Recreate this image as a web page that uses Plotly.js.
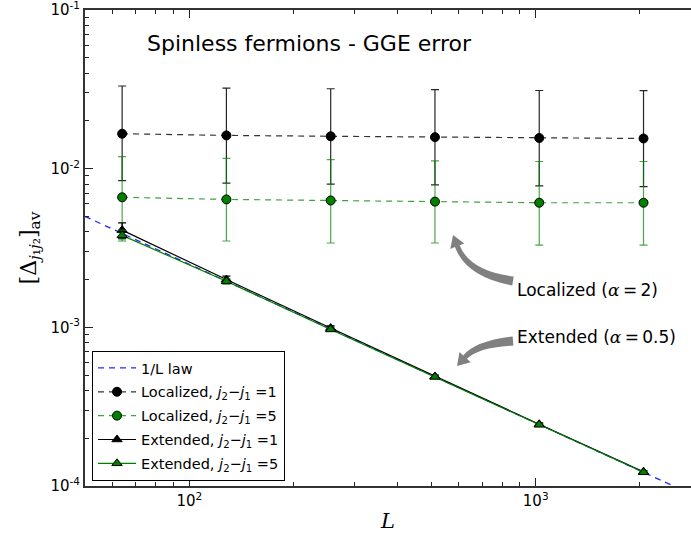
<!DOCTYPE html>
<html><head><meta charset="utf-8">
<script src="https://cdn.plot.ly/plotly-3.0.1.min.js"></script>
<style>html,body{margin:0;padding:0;background:#fff}#chart{width:691px;height:534px}</style>
</head><body><div id="chart"></div>
<script>
// ---- data ----
const sizes = [64, 128, 256, 512, 1024, 2048];

const lawL = [50, 3000];
const lawVal = [0.0050, 0.0000833];

const locJ1 = [0.0166, 0.0162, 0.0160, 0.0158, 0.0156, 0.0155];
const locJ1Plus = [0.0166, 0.0160, 0.0159, 0.0157, 0.0155, 0.0155];
const locJ1Minus = [0.0082, 0.0081, 0.0080, 0.0079, 0.0078, 0.0078];

const locJ5 = [0.0066, 0.0064, 0.0063, 0.0062, 0.0061, 0.0061];
const locJ5Plus = [0.0053, 0.0052, 0.0051, 0.0050, 0.0050, 0.0050];
const locJ5Minus = [0.0030, 0.0029, 0.0029, 0.0028, 0.0028, 0.0028];

const extJ1 = [0.0041, 0.00200, 0.00099, 0.000490, 0.000245, 0.000123];
const extJ1Err = [0.00045, 0.00010, 0.00003, 0.00001, 0.000005, 0.000002];

const extJ5 = [0.0038, 0.00195, 0.00097, 0.000487, 0.000243, 0.000122];
const extJ5Err = [0.00030, 0.00008, 0.00002, 0.00001, 0.000004, 0.000002];

const legendNames = [
  '1/L law',
  'Localized, <i>j</i><sub>2</sub>−<i>j</i><sub>1</sub> =1',
  'Localized, <i>j</i><sub>2</sub>−<i>j</i><sub>1</sub> =5',
  'Extended, <i>j</i><sub>2</sub>−<i>j</i><sub>1</sub> =1',
  'Extended, <i>j</i><sub>2</sub>−<i>j</i><sub>1</sub> =5'
];

const xTickVals = [100, 1000];
const xTickText = ['10<sup>2</sup>', '10<sup>3</sup>'];
const yTickVals = [1e-4, 1e-3, 1e-2, 1e-1];
const yTickText = ['10<sup>-4</sup>', '10<sup>-3</sup>', '10<sup>-2</sup>', '10<sup>-1</sup>'];

const xMinorTicks = [60, 70, 80, 90, 200, 300, 400, 500, 600, 700, 800, 900, 2000];
const yMinorTicks = [2e-4, 3e-4, 4e-4, 5e-4, 6e-4, 7e-4, 8e-4, 9e-4,
                     2e-3, 3e-3, 4e-3, 5e-3, 6e-3, 7e-3, 8e-3, 9e-3,
                     2e-2, 3e-2, 4e-2, 5e-2, 6e-2, 7e-2, 8e-2, 9e-2];

// ---- layout geometry ----
const W = 691, H = 534;
const M = {l: 85, r: 0, t: 10, b: 48};
const PW = W - M.l - M.r, PH = H - M.t - M.b;
const px = x => (x - M.l) / PW;
const py = y => 1 - (y - M.t) / PH;
const xRange = [Math.log10(50), Math.log10(50) + PW / 346.4];
const yRange = [-4, -1];

const BLACK = '#000000', GREEN = '#008000';

const traces = [
  {x: lawL, y: lawVal, mode: 'lines', name: legendNames[0], legendgroup: 'a',
   line: {color: 'rgba(0,0,255,0.85)', width: 1.3, dash: '6px,5px'}},
  {x: sizes, y: locJ1, mode: 'lines+markers', name: legendNames[1], legendgroup: 'b',
   line: {color: 'rgba(0,0,0,0.8)', width: 1.2, dash: '6px,5px'},
   marker: {symbol: 'circle', size: 9, color: BLACK, line: {color: BLACK, width: 1}},
   error_y: {type: 'data', symmetric: false, array: locJ1Plus, arrayminus: locJ1Minus,
             color: 'rgba(0,0,0,0.85)', thickness: 1.2, width: 4}},
  {x: sizes, y: locJ5, mode: 'lines+markers', name: legendNames[2], legendgroup: 'c',
   line: {color: 'rgba(0,128,0,0.75)', width: 1.2, dash: '6px,5px'},
   marker: {symbol: 'circle', size: 9, color: GREEN, line: {color: BLACK, width: 1}},
   error_y: {type: 'data', symmetric: false, array: locJ5Plus, arrayminus: locJ5Minus,
             color: 'rgba(0,128,0,0.7)', thickness: 1.2, width: 4}},
  {x: sizes, y: extJ1, mode: 'lines+markers', name: legendNames[3], legendgroup: 'd',
   line: {color: BLACK, width: 1.2},
   marker: {symbol: 'triangle-up', size: 9, color: BLACK, line: {color: BLACK, width: 1}},
   error_y: {type: 'data', array: extJ1Err, color: BLACK, thickness: 1.2, width: 4}},
  {x: sizes, y: extJ5, mode: 'lines+markers', name: legendNames[4], legendgroup: 'e',
   line: {color: GREEN, width: 1.2},
   marker: {symbol: 'triangle-up', size: 9, color: GREEN, line: {color: BLACK, width: 1}},
   error_y: {type: 'data', array: extJ5Err, color: 'rgba(0,128,0,0.8)', thickness: 1.2, width: 4}},
  // empty trace that carries the overlay axes used for the minor ticks
  {x: [], y: [], xaxis: 'x2', yaxis: 'y2', mode: 'markers', showlegend: false,
   hoverinfo: 'skip', legendgroup: 'z'}
];

// curved tapered arrow, built in pixel space, converted to paper coords
function arrowPath(p0, p1, tip, wTail, wShaft, wHead, headLen) {
  const norm = (x, y) => { const d = Math.hypot(x, y); return [x / d, y / d]; };
  const t = norm(tip[0] - p1[0], tip[1] - p1[1]);
  const p2 = [tip[0] - headLen * t[0], tip[1] - headLen * t[1]];
  const n2 = [-t[1], t[0]];
  const t0 = norm(p1[0] - p0[0], p1[1] - p0[1]);
  const n0 = [-t0[1], t0[0]];
  const tm = norm(p2[0] - p0[0], p2[1] - p0[1]);
  const nm = [-tm[1], tm[0]];
  const wMid = (wTail + wShaft) / 2;
  const off = (p, n, w) => [p[0] + n[0] * w, p[1] + n[1] * w];
  const a1 = off(p0, n0, wTail / 2), a2 = off(p0, n0, -wTail / 2);
  const c1 = off(p1, nm, wMid / 2), c2 = off(p1, nm, -wMid / 2);
  const b1 = off(p2, n2, wShaft / 2), b2 = off(p2, n2, -wShaft / 2);
  const h1 = off(p2, n2, wHead / 2), h2 = off(p2, n2, -wHead / 2);
  const P = p => px(p[0]).toFixed(4) + ',' + py(p[1]).toFixed(4);
  return 'M' + P(a1) + ' Q' + P(c1) + ' ' + P(b1) + ' L' + P(h1) + ' L' + P(tip) +
         ' L' + P(h2) + ' L' + P(b2) + ' Q' + P(c2) + ' ' + P(a2) + ' Z';
}

const shapes = [
  {type: 'path', xref: 'paper', yref: 'paper', fillcolor: '#808080', line: {width: 0},
   path: arrowPath([513, 281], [468, 274], [453, 235], 9, 5, 15, 12)},
  {type: 'path', xref: 'paper', yref: 'paper', fillcolor: '#808080', line: {width: 0},
   path: arrowPath([513, 341], [477, 344], [457, 366], 9, 5, 15, 12)}
];

const annFont = {family: 'DejaVu Sans', size: 17, color: '#000'};
const alpha = '<span style="font-family:DejaVu Serif"><i>α</i></span>';
const eq = '\u2009=\u2009';
const annotations = [
  {xref: 'paper', yref: 'paper', x: px(515), y: py(290), xanchor: 'left', yanchor: 'middle',
   showarrow: false, text: 'Localized (' + alpha + eq + '2)', font: annFont},
  {xref: 'paper', yref: 'paper', x: px(515), y: py(337), xanchor: 'left', yanchor: 'middle',
   showarrow: false, text: 'Extended (' + alpha + eq + '0.5)', font: annFont}
];

const axisCommon = {
  type: 'log', showgrid: false, zeroline: false, showline: true,
  linecolor: '#333', linewidth: 2, ticks: 'inside', ticklen: 8, tickwidth: 1,
  tickcolor: '#222', tickmode: 'array', ticklabeloverflow: 'allow',
  tickfont: {family: 'DejaVu Sans', size: 15, color: '#000'}
};

const minorAxis = {
  type: 'log', showgrid: false, zeroline: false, showline: false,
  ticks: 'inside', ticklen: 4, tickwidth: 1, tickcolor: '#222',
  tickmode: 'array', showticklabels: false, fixedrange: true
};

const layout = {
  width: W, height: H, margin: M,
  paper_bgcolor: '#fff', plot_bgcolor: '#fff',
  showlegend: true,
  title: {text: 'Spinless fermions - GGE error', xref: 'paper', x: px(147), xanchor: 'left',
          yref: 'container', y: 1 - 43 / H, yanchor: 'middle',
          font: {family: 'DejaVu Sans', size: 22, color: '#000'}},
  xaxis: Object.assign({}, axisCommon, {
    range: xRange, mirror: 'ticks',
    tickvals: xTickVals, ticktext: xTickText,
    title: {text: '<i>L</i>', standoff: 4, font: {family: 'DejaVu Serif', size: 21, color: '#000'}}
  }),
  yaxis: Object.assign({}, axisCommon, {
    range: yRange, mirror: false,
    tickvals: yTickVals, ticktext: yTickText,
    title: {text: '[Δ<sub><i>j</i>₁<i>j</i>₂</sub>]<sub>av</sub>', standoff: 8,
            font: {family: 'DejaVu Serif', size: 22, color: '#000'}}
  }),
  xaxis2: Object.assign({}, minorAxis, {range: xRange, overlaying: 'x', anchor: 'y2',
                                        side: 'bottom', mirror: 'ticks', tickvals: xMinorTicks}),
  yaxis2: Object.assign({}, minorAxis, {range: yRange, overlaying: 'y', anchor: 'x2',
                                        side: 'left', tickvals: yMinorTicks}),
  legend: {x: px(92), y: py(351), xanchor: 'left', yanchor: 'top',
           bgcolor: '#fff', bordercolor: '#000', borderwidth: 1, itemwidth: 38,
           tracegroupgap: 2, font: {family: 'DejaVu Sans', size: 14.5, color: '#000'}},
  shapes: shapes, annotations: annotations
};

Plotly.newPlot('chart', traces, layout, {displayModeBar: false, staticPlot: true});
</script></body></html>
